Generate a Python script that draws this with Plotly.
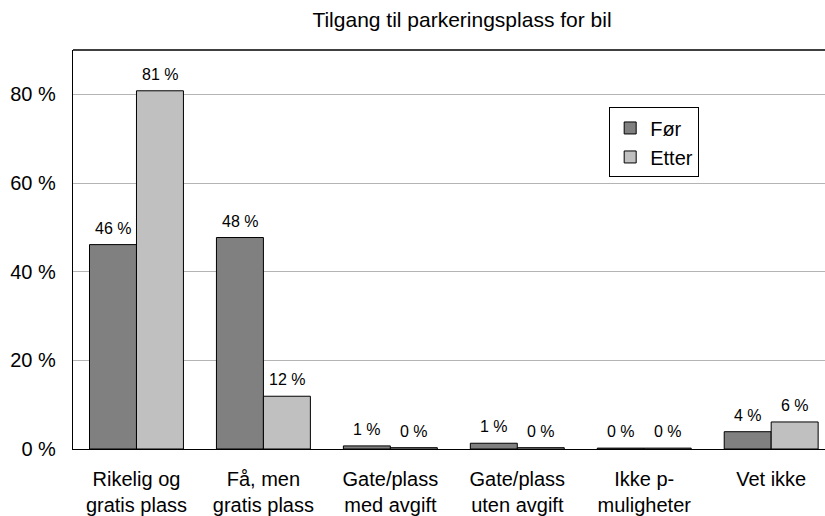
import plotly.graph_objects as go

categories = ["Rikelig og<br>gratis plass", "Få, men<br>gratis plass", "Gate/plass<br>med avgift",
              "Gate/plass<br>uten avgift", "Ikke p-<br>muligheter", "Vet ikke"]
for_values = [46.1, 47.7, 0.7, 1.3, 0.2, 3.9]
etter_values = [80.8, 11.9, 0.3, 0.3, 0.2, 6.1]
series = [("Før", for_values, "#808080", -23.5), ("Etter", etter_values, "#c0c0c0", 23.5)]
y_ticks = [0, 20, 40, 60, 80]
y_tick_labels = ["0 %", "20 %", "40 %", "60 %", "80 %"]

FONT = "Liberation Sans, Arial, sans-serif"
x_idx = list(range(len(categories)))

fig = go.Figure()
for name, vals, color, _ in series:
    fig.add_trace(go.Bar(name=name, x=x_idx, y=vals,
                         marker=dict(color=color, line=dict(color="black", width=1)),
                         hoverinfo="y"))

# data labels above bars (positioned through the data scales)
for name, vals, color, dx in series:
    for xi, v in zip(x_idx, vals):
        fig.add_annotation(x=xi, y=v, xref="x", yref="y", text=f"{v:.0f} %",
                           showarrow=False, xanchor="center", yanchor="bottom",
                           xshift=dx, yshift=6,
                           font=dict(size=16, family=FONT, color="black"))

fig.update_layout(
    width=825, height=516,
    margin=dict(l=73, r=0, t=50, b=64, pad=0),
    paper_bgcolor="white", plot_bgcolor="white",
    font=dict(family=FONT, size=20, color="black"),
    barmode="group", bargap=0.26, bargroupgap=0,
    title=dict(text="Tilgang til parkeringsplass for bil", x=462/825, xanchor="center",
               xref="container", y=1 - 20/516, yanchor="middle", yref="container",
               font=dict(size=21, family=FONT, color="black")),
    legend=dict(x=0.713, y=0.856, xanchor="left", yanchor="top",
                bordercolor="black", borderwidth=1, bgcolor="white",
                font=dict(size=20, family=FONT), itemwidth=30, tracegroupgap=0),
    showlegend=True,
)
fig.update_xaxes(range=[-0.5, 5.424], tickmode="array", tickvals=x_idx, ticktext=categories,
                 showline=True, linecolor="black", linewidth=1.3, ticks="", showgrid=False,
                 tickfont=dict(size=20, family=FONT), ticklabelstandoff=12, fixedrange=True)
fig.update_yaxes(range=[0, 90], tickmode="array", tickvals=y_ticks, ticktext=y_tick_labels,
                 showline=True, linecolor="black", linewidth=1.3, ticks="",
                 showgrid=True, gridcolor="#b4b4b4", gridwidth=1, zeroline=False,
                 tickfont=dict(size=20, family=FONT), ticklabelstandoff=12, fixedrange=True)
fig.add_shape(type="line", xref="paper", yref="paper", x0=0, x1=1, y0=1, y1=1,
              line=dict(color="black", width=1.3))

fig.write_html("out.html", config={"displayModeBar": False},
               post_script="document.body.style.margin='0px';document.body.style.overflow='hidden';")
